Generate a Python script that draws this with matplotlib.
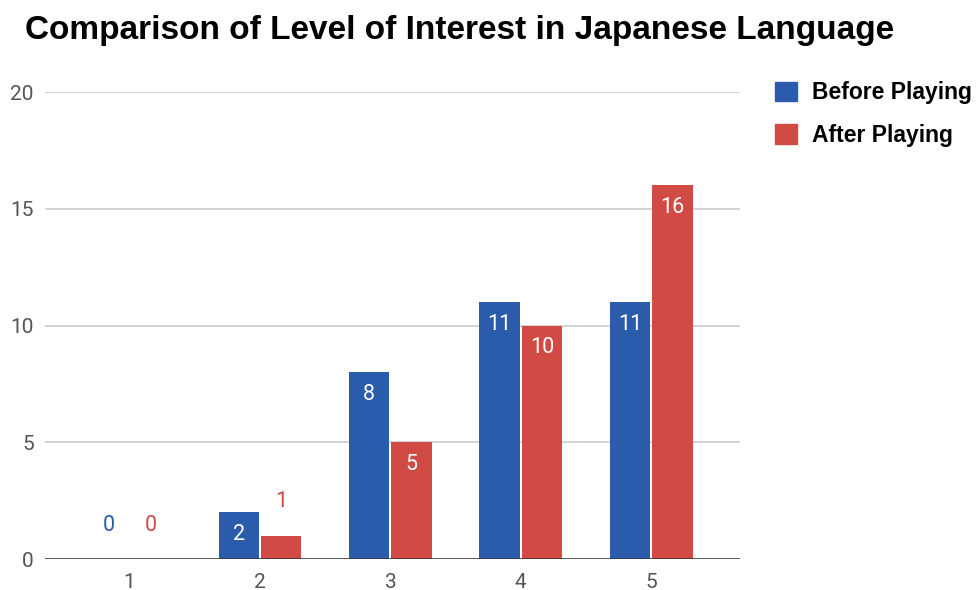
import matplotlib.pyplot as plt
import numpy as np
from matplotlib.patches import Patch

# survey answers: interest level 1-5
levels = ["1", "2", "3", "4", "5"]
before = [0, 2, 8, 11, 11]
after = [0, 1, 5, 10, 16]

blue = "#2b5cab"
red = "#d14a43"

fig = plt.figure(figsize=(9.76, 5.9), dpi=100)
ax = fig.add_axes([0.046, 0.0525, 0.712, 0.7915])

x = np.arange(len(levels))
w = 0.31
gap = 0.008
b1 = ax.bar(x - w / 2 - gap, before, w, color=blue, zorder=3)
b2 = ax.bar(x + w / 2 + gap, after, w, color=red, zorder=3)

# value labels: inside the bar when it is tall enough, above it otherwise
for bars, vals, col in [(b1, before, blue), (b2, after, red)]:
    for bar, v in zip(bars, vals):
        cx = bar.get_x() + bar.get_width() / 2
        if v >= 2:
            ax.annotate(str(v), (cx, v), xytext=(0, -22), textcoords="offset pixels",
                        ha="center", va="center", color="white",
                        fontsize=15.5, family="Roboto", zorder=4)
        else:
            ax.annotate(str(v), (cx, v), xytext=(0, 34), textcoords="offset pixels",
                        ha="center", va="center", color=col,
                        fontsize=15.5, family="Roboto", zorder=4)

ax.set_ylim(0, 20)
ax.set_xlim(-0.65, 4.68)
ax.set_yticks([0, 5, 10, 15, 20])
ax.set_xticks(x)
ax.set_xticklabels(levels)
ax.grid(axis="y", color="#cccccc", linewidth=1.2, zorder=0)
ax.axhline(0, color="#333333", linewidth=1.8, zorder=5)
for s in ax.spines.values():
    s.set_visible(False)
ax.tick_params(length=0, labelsize=15, labelcolor="#555555")
ax.tick_params(axis="x", pad=10)
ax.tick_params(axis="y", pad=8)
for lab in ax.get_xticklabels() + ax.get_yticklabels():
    lab.set_family("Roboto")

fig.text(0.026, 0.948, "Comparison of Level of Interest in Japanese Language",
         fontsize=24, fontweight="bold", family="Liberation Sans", va="center")

handles = [Patch(color=blue, label="Before Playing"), Patch(color=red, label="After Playing")]
fig.legend(handles=handles, loc="upper left", bbox_to_anchor=(0.794, 0.862),
           frameon=False, prop={"family": "Liberation Sans", "weight": "bold", "size": 16.5},
           handlelength=0.95, handleheight=0.95, handletextpad=0.65, labelspacing=0.85,
           borderaxespad=0, borderpad=0)

fig.savefig("out.png", dpi=100)
